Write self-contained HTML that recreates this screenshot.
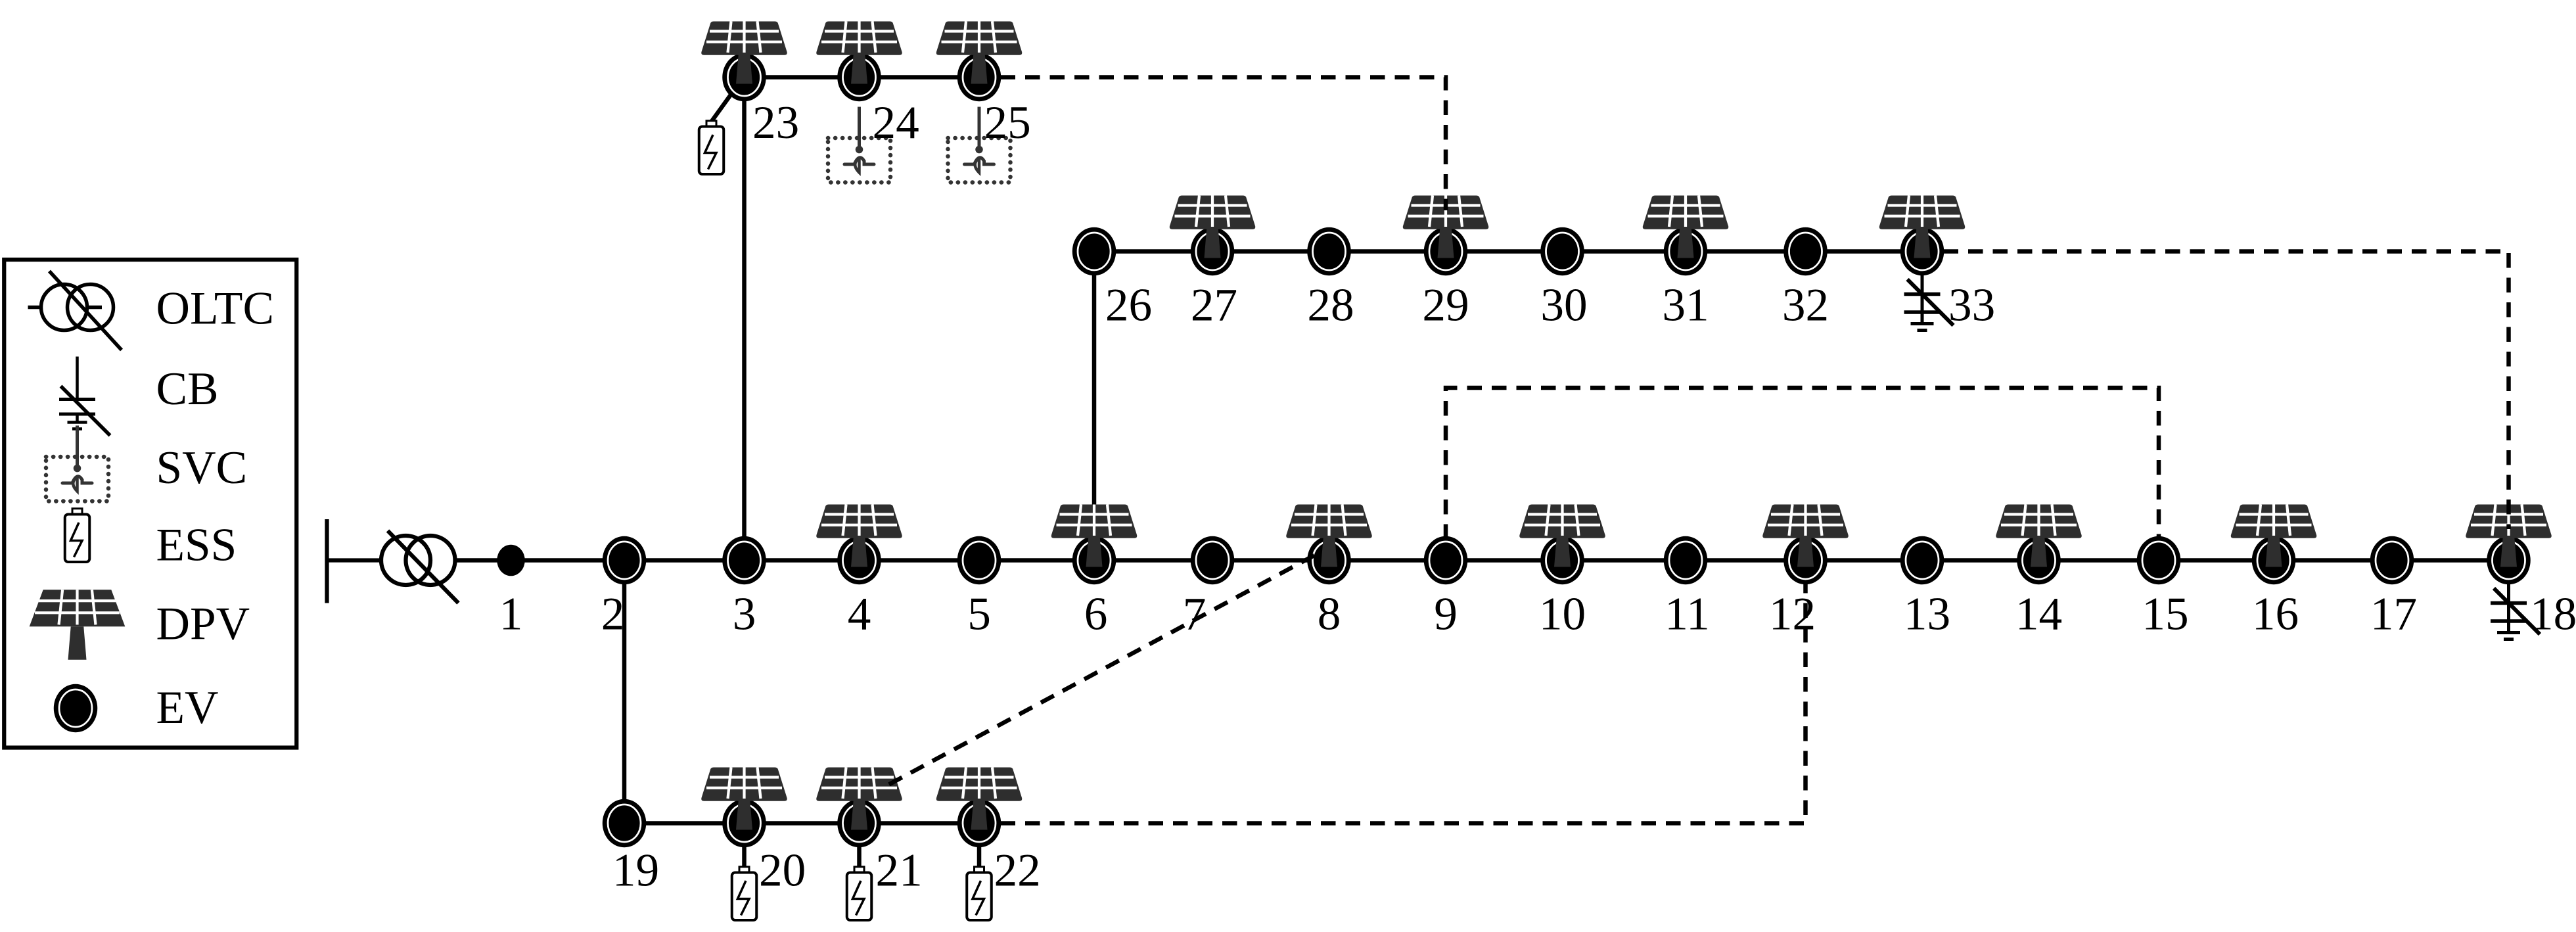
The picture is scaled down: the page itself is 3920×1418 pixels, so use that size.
<!DOCTYPE html>
<html><head><meta charset="utf-8"><style>
html,body{margin:0;padding:0;background:#fff;}
svg{display:block;}
text{font-family:"Liberation Serif",serif;font-size:28.5px;fill:#000;}
</style></head><body>
<svg width="3920" height="1418" viewBox="0 0 1568 567.2" xmlns="http://www.w3.org/2000/svg">
<defs>
<g id="ev"><ellipse cx="0" cy="0" rx="13.3" ry="14.7" fill="#000"/><ellipse cx="0" cy="0" rx="10" ry="11.4" fill="none" stroke="#fff" stroke-width="1.1"/></g>
<g id="pv">
<path d="M-18.5,-34 L18.5,-34 Q20,-34 20.5,-33 L26,-15.5 Q26.5,-13.5 24.5,-13.5 L-24.5,-13.5 Q-26.5,-13.5 -26,-15.5 L-20.5,-33 Q-20,-34 -18.5,-34 Z" fill="#2e2e2e"/>
<g stroke="#fff" stroke-width="1.7"><line x1="-21" y1="-28" x2="21" y2="-28"/><line x1="-23" y1="-21.5" x2="23" y2="-21.5"/><line x1="-8" y1="-34" x2="-10" y2="-15"/><line x1="0" y1="-34" x2="0" y2="-15"/><line x1="8" y1="-34" x2="10" y2="-15"/></g>
<path d="M-3.5,-14 L3.5,-14 L5,4 L-5,4 Z" fill="#2e2e2e"/>
</g>
<g id="ess">
<rect x="-3" y="-3.5" width="6" height="4" fill="#fff" stroke="#000" stroke-width="1.2"/>
<rect x="-7.5" y="0" width="15" height="29" rx="2" fill="#fff" stroke="#000" stroke-width="1.6"/>
<polyline points="1,5 -4,16 3,16 -2,26" fill="none" stroke="#000" stroke-width="1.4"/>
</g>
<g id="svc">
<rect x="-19" y="-11" width="38" height="27" fill="none" stroke="#333" stroke-width="2.6" stroke-dasharray="0.1 4.3" stroke-linecap="round"/>
<line x1="0" y1="-30" x2="0" y2="-4" stroke="#333" stroke-width="2"/>
<circle cx="0" cy="-4" r="2.3" fill="#333"/>
<line x1="-9" y1="5" x2="-3" y2="5" stroke="#333" stroke-width="2" stroke-linecap="round"/>
<path d="M-3,5 Q0,-2 3,3 L3,5 L9,5" fill="none" stroke="#333" stroke-width="2" stroke-linecap="round"/>
<path d="M0,1 Q-5,5 0,10 L0,1" fill="none" stroke="#333" stroke-width="1.8"/>
</g>
<g id="cb">
<line x1="0" y1="0" x2="0" y2="44" stroke="#000" stroke-width="2"/>
<line x1="-11" y1="26" x2="11" y2="26" stroke="#000" stroke-width="2.2"/>
<line x1="-11" y1="37" x2="11" y2="37" stroke="#000" stroke-width="2.2"/>
<line x1="-7" y1="44" x2="7" y2="44" stroke="#000" stroke-width="2"/>
<line x1="-3" y1="48" x2="3" y2="48" stroke="#000" stroke-width="2"/>
<line x1="-9" y1="17" x2="19" y2="45" stroke="#000" stroke-width="2.4"/>
</g>
</defs>

<!-- legend -->
<rect x="2.5" y="158" width="178" height="297" fill="none" stroke="#000" stroke-width="2.5"/>
<line x1="17" y1="187" x2="62" y2="187" stroke="#000" stroke-width="2.2"/>
<circle cx="39" cy="187" r="14" fill="#fff" stroke="#000" stroke-width="2.2"/>
<circle cx="55" cy="187" r="14" fill="none" stroke="#000" stroke-width="2.2"/>
<line x1="30" y1="165" x2="74" y2="213" stroke="#000" stroke-width="2.2"/>
<g transform="translate(47,217)"><line x1="0" y1="0" x2="0" y2="26" stroke="#000" stroke-width="1.8"/><line x1="-11" y1="26" x2="11" y2="26" stroke="#000" stroke-width="2"/><line x1="-11" y1="35" x2="11" y2="35" stroke="#000" stroke-width="2"/><line x1="0" y1="35" x2="0" y2="40" stroke="#000" stroke-width="1.8"/><line x1="-6" y1="40" x2="6" y2="40" stroke="#000" stroke-width="1.8"/><line x1="-3" y1="44" x2="3" y2="44" stroke="#000" stroke-width="1.8"/><line x1="-10" y1="18" x2="20" y2="48" stroke="#000" stroke-width="2.2"/></g>
<use href="#svc" x="47" y="289"/>
<use href="#ess" x="47" y="313"/>
<g transform="translate(47,397) scale(1.12)"><path d="M-18.5,-34 L18.5,-34 L26,-14 L-26,-14 Z" fill="#2e2e2e"/><g stroke="#fff" stroke-width="1.5"><line x1="-21" y1="-28" x2="21" y2="-28"/><line x1="-23" y1="-21.5" x2="23" y2="-21.5"/><line x1="-8" y1="-34" x2="-10" y2="-15"/><line x1="0" y1="-34" x2="0" y2="-15"/><line x1="8" y1="-34" x2="10" y2="-15"/></g><path d="M-3.5,-14 L3.5,-14 L5,4 L-5,4 Z" fill="#2e2e2e"/></g>
<use href="#ev" x="46" y="431"/>
<text x="95" y="197">OLTC</text>
<text x="95" y="246">CB</text>
<text x="95" y="294">SVC</text>
<text x="95" y="341">ESS</text>
<text x="95" y="389">DPV</text>
<text x="95" y="440">EV</text>

<!-- source and transformer -->
<line x1="199" y1="316" x2="199" y2="367" stroke="#000" stroke-width="2.5"/>
<line x1="199" y1="341" x2="232" y2="341" stroke="#000" stroke-width="2.5"/>
<circle cx="247" cy="341" r="15" fill="#fff" stroke="#000" stroke-width="2.5"/>
<circle cx="262" cy="341" r="15" fill="none" stroke="#000" stroke-width="2.5"/>
<line x1="236" y1="323" x2="279" y2="367" stroke="#000" stroke-width="2.5"/>

<!-- solid lines -->
<g stroke="#000" stroke-width="2.6" fill="none">
<line x1="277" y1="341" x2="1527" y2="341"/>
<line x1="666" y1="153" x2="1170" y2="153"/>
<line x1="453" y1="47" x2="596" y2="47"/>
<line x1="380" y1="501" x2="596" y2="501"/>
<line x1="453" y1="341" x2="453" y2="47"/>
<line x1="666" y1="341" x2="666" y2="153"/>
<line x1="380" y1="341" x2="380" y2="501"/>
<line x1="446" y1="56" x2="433" y2="74"/>
<line x1="453" y1="501" x2="453" y2="527"/>
<line x1="523" y1="501" x2="523" y2="527"/>
<line x1="596" y1="501" x2="596" y2="527"/>
</g>

<use href="#ess" x="433" y="77"/>
<use href="#ess" x="453" y="531"/>
<use href="#ess" x="523" y="531"/>
<use href="#ess" x="596" y="531"/>
<use href="#svc" x="523" y="95"/>
<use href="#svc" x="596" y="95"/>
<use href="#cb" x="1170" y="153"/>
<use href="#cb" x="1527" y="341"/>

<ellipse cx="311" cy="341" rx="8.5" ry="9.5" fill="#000"/>

<g>
<use href="#ev" x="380" y="341"/><use href="#ev" x="453" y="341"/><use href="#ev" x="523" y="341"/><use href="#ev" x="596" y="341"/>
<use href="#ev" x="666" y="341"/><use href="#ev" x="738" y="341"/><use href="#ev" x="809" y="341"/><use href="#ev" x="880" y="341"/>
<use href="#ev" x="951" y="341"/><use href="#ev" x="1026" y="341"/><use href="#ev" x="1099" y="341"/><use href="#ev" x="1170" y="341"/>
<use href="#ev" x="1241" y="341"/><use href="#ev" x="1314" y="341"/><use href="#ev" x="1384" y="341"/><use href="#ev" x="1456" y="341"/>
<use href="#ev" x="1527" y="341"/>
<use href="#ev" x="666" y="153"/><use href="#ev" x="738" y="153"/><use href="#ev" x="809" y="153"/><use href="#ev" x="880" y="153"/>
<use href="#ev" x="951" y="153"/><use href="#ev" x="1026" y="153"/><use href="#ev" x="1099" y="153"/><use href="#ev" x="1170" y="153"/>
<use href="#ev" x="453" y="47"/><use href="#ev" x="523" y="47"/><use href="#ev" x="596" y="47"/>
<use href="#ev" x="380" y="501"/><use href="#ev" x="453" y="501"/><use href="#ev" x="523" y="501"/><use href="#ev" x="596" y="501"/>
</g>

<g>
<use href="#pv" x="523" y="341"/><use href="#pv" x="666" y="341"/><use href="#pv" x="809" y="341"/><use href="#pv" x="951" y="341"/>
<use href="#pv" x="1099" y="341"/><use href="#pv" x="1241" y="341"/><use href="#pv" x="1384" y="341"/><use href="#pv" x="1527" y="341"/>
<use href="#pv" x="738" y="153"/><use href="#pv" x="880" y="153"/><use href="#pv" x="1026" y="153"/><use href="#pv" x="1170" y="153"/>
<use href="#pv" x="453" y="47"/><use href="#pv" x="523" y="47"/><use href="#pv" x="596" y="47"/>
<use href="#pv" x="453" y="501"/><use href="#pv" x="523" y="501"/><use href="#pv" x="596" y="501"/>
</g>

<g stroke="#000" stroke-width="2.6" fill="none" stroke-dasharray="9 6">
<polyline points="609,47 880,47 880,128"/>
<polyline points="1183,153 1527,153 1527,322"/>
<polyline points="880,328 880,236 1314,236 1314,328"/>
<polyline points="609,501 1099,501 1099,354"/>
<line x1="800" y1="338" x2="540" y2="478"/>
</g>

<g text-anchor="middle">
<text x="311" y="383">1</text><text x="373" y="383">2</text><text x="453" y="383">3</text><text x="523" y="383">4</text>
<text x="596" y="383">5</text><text x="667" y="383">6</text><text x="727" y="383">7</text><text x="809" y="383">8</text>
<text x="880" y="383">9</text><text x="951" y="383">10</text><text x="1027" y="383">11</text><text x="1091" y="383">12</text>
<text x="1173" y="383">13</text><text x="1241" y="383">14</text><text x="1318" y="383">15</text><text x="1385" y="383">16</text>
<text x="1457" y="383">17</text>
<text x="687" y="195">26</text><text x="739" y="195">27</text><text x="810" y="195">28</text><text x="880" y="195">29</text>
<text x="952" y="195">30</text><text x="1026" y="195">31</text><text x="1099" y="195">32</text>
<text x="387" y="539">19</text>
</g>
<text x="1540" y="383">18</text>
<text x="1186" y="195">33</text>
<text x="458" y="84">23</text><text x="531" y="84">24</text><text x="599" y="84">25</text>
<text x="462" y="539">20</text><text x="533" y="539">21</text><text x="605" y="539">22</text>
</svg>
</body></html>
